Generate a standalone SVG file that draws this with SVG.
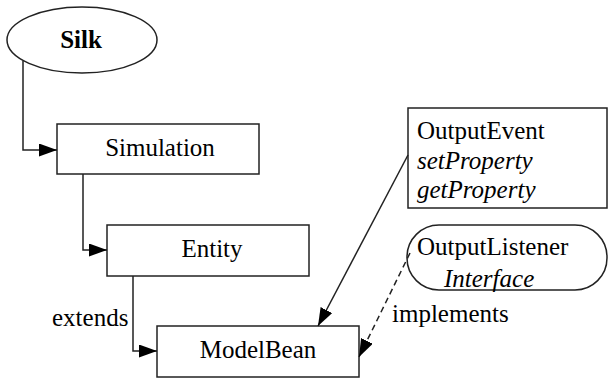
<svg xmlns="http://www.w3.org/2000/svg" width="608" height="379" viewBox="0 0 608 379">
<defs>
<marker id="arr" markerUnits="userSpaceOnUse" markerWidth="19" markerHeight="13" refX="18" refY="6.5" orient="auto">
<path d="M0,0 L18,6.5 L0,13 Z" fill="#000"/>
</marker>
</defs>
<g id="silk">
<ellipse fill="#fff" stroke="#222" stroke-width="1.5" cx="82" cy="40" rx="75" ry="33"/>
<text font-family="Liberation Serif" font-size="25" font-weight="bold" x="81" y="48" text-anchor="middle">Silk</text>
</g>
<g id="simulation">
<rect fill="#fff" stroke="#222" stroke-width="1.5" x="57" y="124" width="202" height="50"/>
<text font-family="Liberation Serif" font-size="25" x="160" y="156" text-anchor="middle">Simulation</text>
</g>
<g id="entity">
<rect fill="#fff" stroke="#222" stroke-width="1.5" x="107" y="225" width="202" height="51"/>
<text font-family="Liberation Serif" font-size="25" x="212" y="257" text-anchor="middle">Entity</text>
</g>
<g id="modelbean">
<rect fill="#fff" stroke="#222" stroke-width="1.5" x="157" y="326" width="202" height="51"/>
<text font-family="Liberation Serif" font-size="25" x="258" y="358" text-anchor="middle">ModelBean</text>
</g>
<g id="outputevent">
<rect fill="#fff" stroke="#222" stroke-width="1.5" x="408" y="108" width="199" height="100"/>
<text font-family="Liberation Serif" font-size="25" x="417" y="139">OutputEvent</text>
<text font-family="Liberation Serif" font-size="25" font-style="italic" x="417" y="169">setProperty</text>
<text font-family="Liberation Serif" font-size="25" font-style="italic" x="417" y="198">getProperty</text>
</g>
<g id="outputlistener">
<rect fill="#fff" stroke="#222" stroke-width="1.5" x="407" y="225" width="200" height="65" rx="32" ry="32"/>
<text font-family="Liberation Serif" font-size="25" x="417" y="255">OutputListener</text>
<text font-family="Liberation Serif" font-size="25" font-style="italic" x="444" y="287">Interface</text>
</g>
<g id="connectors">
<path fill="none" stroke="#222" stroke-width="1.5" d="M23,61 V150 H57" marker-end="url(#arr)"/>
<path fill="none" stroke="#222" stroke-width="1.5" d="M83,174 V250 H107" marker-end="url(#arr)"/>
<path fill="none" stroke="#222" stroke-width="1.5" d="M133,276 V351 H157" marker-end="url(#arr)"/>
<path fill="none" stroke="#222" stroke-width="1.5" d="M408,155 L318,326" marker-end="url(#arr)"/>
<path fill="none" stroke="#222" stroke-width="1.5" stroke-dasharray="6 4" d="M410,253 L359,357" marker-end="url(#arr)"/>
<text font-family="Liberation Serif" font-size="25" x="52" y="326">extends</text>
<text font-family="Liberation Serif" font-size="25" x="392" y="322">implements</text>
</g>
</svg>
